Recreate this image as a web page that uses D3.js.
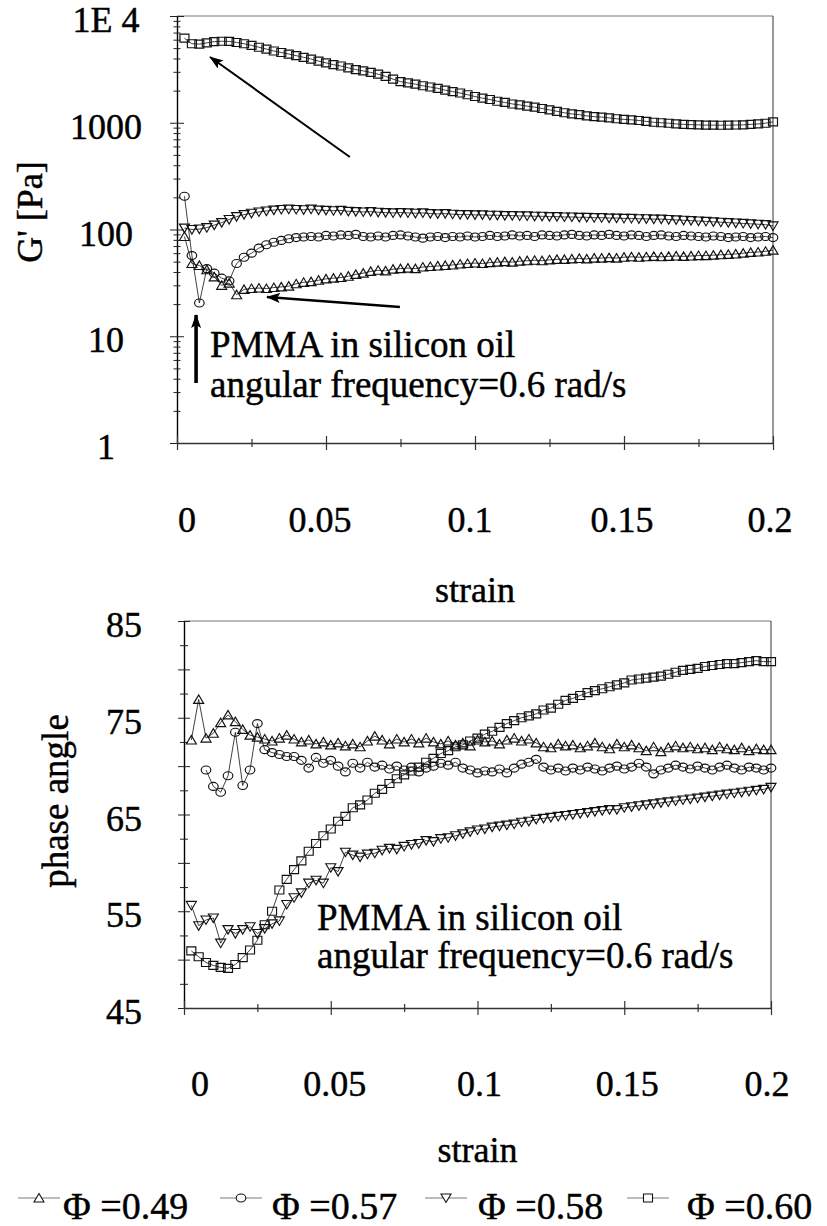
<!DOCTYPE html>
<html>
<head>
<meta charset="utf-8">
<script src="https://cdn.jsdelivr.net/npm/d3@7"></script>
<style>
  html, body { margin: 0; padding: 0; background: #fff; }
  svg { display: block; }
</style>
</head>
<body>
<svg id="fig" width="827" height="1226"></svg>
<script>
// ---------------------------------------------------------------
// Data: strain sweep of PMMA suspensions in silicon oil (0.6 rad/s)
// ---------------------------------------------------------------
const strain = [
  0.0025,0.005,0.0075,0.01,0.0125,0.015,0.0175,0.02,0.0225,0.025,
  0.0275,0.03,0.0325,0.035,0.0375,0.04,0.0425,0.045,0.0475,0.05,
  0.0525,0.055,0.0575,0.06,0.0625,0.065,0.0675,0.07,0.0725,0.075,
  0.0775,0.08,0.0825,0.085,0.0875,0.09,0.0925,0.095,0.0975,0.1,
  0.1025,0.105,0.1075,0.11,0.1125,0.115,0.1175,0.12,0.1225,0.125,
  0.1275,0.13,0.1325,0.135,0.1375,0.14,0.1425,0.145,0.1475,0.15,
  0.1525,0.155,0.1575,0.16,0.1625,0.165,0.1675,0.17,0.1725,0.175,
  0.1775,0.18,0.1825,0.185,0.1875,0.19,0.1925,0.195,0.1975,0.2
];

const seriesLabels = ["\u03A6 =0.49", "\u03A6 =0.57", "\u03A6 =0.58", "\u03A6 =0.60"];

// storage modulus G' [Pa]
const gPrime049 = [
  86,48,46,42,36,30,31.5,24.5,27.5,28,
  28.3,28,28.6,29,29.5,31,32,32.5,33.5,34.5,
  35,35.5,36.5,38,39,40.5,41.5,41,42.5,43,
  43.5,43,44.5,45,45.5,46,46.5,47.5,48,48.5,
  48,49,49.5,50,49.5,50.5,51,51.5,51,52,
  52.5,52.5,53,53.5,53,54,54,54.5,54,55,
  55.5,55,55.5,56,55.5,56,56.5,56,56.5,57,
  57,57.5,58,58.5,59,60,61,61.5,62.5,64
];
const gPrime057 = [
  205,57,20.5,43,39,35,33,48,55,60,
  67,72,76,79,82,84,85,86,85,88,
  87,89,88,90,86,85,87,85,88,89,
  87,85,83,85,86,84,86,85,87,85,
  86,88,86,87,89,87,88,86,89,88,
  87,89,90,88,87,89,88,90,88,87,
  89,88,86,88,89,87,86,88,87,86,
  85,87,86,84,85,86,84,85,86,84
];
const gPrime058 = [
  103,100,101,104,110,116,124,132,138,142,
  146,149,152,154,155,154,153,155,152,151,
  150,151,148,147,146,147,145,144,143,144,
  143,142,143,141,140,141,139,138,138,137,
  137,136,136,135,135,134,134,133,133,132,
  132,131,131,130,130,129,129,128,128,127,
  127,126,126,125,125,124,123,122,121,120,
  119,118,117,116,115,114,113,112,111,108
];
const gPrime060 = [
  6200,5500,5450,5600,5750,5800,5780,5650,5500,5300,
  5100,4900,4700,4550,4400,4250,4100,3950,3780,3640,
  3500,3400,3270,3150,3060,2960,2850,2720,2560,2430,
  2360,2300,2220,2160,2100,2020,1960,1900,1830,1760,
  1700,1650,1590,1550,1500,1470,1430,1400,1360,1320,
  1280,1240,1210,1190,1160,1140,1130,1110,1090,1075,
  1065,1050,1030,1010,1000,990,975,965,960,955,
  950,950,948,950,952,955,965,975,990,1020
];

// phase angle [deg]
const phase049 = [
  72.7,76.9,72.9,73.4,74.5,75.3,74.6,73.8,73.2,73.0,
  72.8,72.6,72.9,73.2,72.8,72.5,72.7,72.3,72.5,72.2,
  72.4,72.1,72.3,72.0,72.6,73.1,72.7,72.3,72.8,72.5,
  72.8,72.4,72.9,72.5,72.3,72.6,72.2,72.4,72.1,72.7,
  72.5,72.6,72.3,72.7,72.9,72.6,72.8,72.4,72.0,71.9,
  72.3,72.1,72.2,71.9,72.1,72.4,72.0,71.8,72.3,72.0,
  72.2,71.9,71.6,72.0,71.5,71.9,72.1,71.9,72.0,71.8,
  71.9,71.7,72.0,71.8,71.7,71.9,71.6,71.8,71.7,71.7
];
const phase057 = [
  null,null,69.6,67.9,67.3,69.0,73.5,68.0,69.6,74.4,
  71.7,71.4,71.2,71.0,71.0,70.6,69.8,70.9,70.3,70.6,
  70.0,69.4,70.3,69.8,70.4,69.9,70.1,69.7,70.0,69.6,
  69.9,69.4,69.8,70.0,70.3,70.1,70.4,69.8,69.6,69.3,
  69.5,69.4,69.7,69.3,69.8,70.2,70.4,70.7,69.9,69.6,
  69.8,69.5,69.8,69.6,69.9,69.7,69.5,69.8,70.0,69.7,
  69.9,70.3,69.9,69.2,69.6,69.8,70.1,69.9,69.7,70.0,
  69.8,69.6,69.9,70.1,69.8,69.6,69.9,69.8,69.6,69.8
];
const phase058 = [
  55.6,53.5,54.1,54.3,51.7,53.1,52.7,53.1,53.4,52.7,
  53.2,53.7,54.0,55.7,56.4,56.9,57.9,58.2,57.9,59.5,
  59.1,61.1,60.8,60.6,60.9,61.0,61.3,61.5,61.4,61.7,
  61.9,62.0,62.3,62.2,62.5,62.6,62.8,63.0,63.2,63.4,
  63.5,63.7,63.8,63.9,64.0,64.2,64.3,64.5,64.6,64.7,
  64.8,64.9,65.0,65.1,65.2,65.3,65.4,65.5,65.5,65.7,
  65.8,65.9,66.0,66.1,66.2,66.3,66.4,66.5,66.6,66.7,
  66.8,66.9,67.0,67.1,67.2,67.3,67.4,67.5,67.6,67.8
];
const phase060 = [
  50.9,50.3,49.7,49.4,49.2,49.1,49.5,50.2,51.0,52.0,
  53.6,55.0,57.2,58.3,59.3,60.2,61.2,62.0,62.8,63.5,
  64.3,64.8,65.7,66.0,66.5,67.2,67.6,68.2,68.7,69.1,
  69.5,69.9,70.4,70.8,71.3,71.6,72.0,72.2,72.6,72.9,
  73.3,73.6,74.0,74.4,74.7,75.0,75.2,75.4,75.8,76.0,
  76.4,76.8,77.0,77.3,77.6,77.8,78.0,78.2,78.4,78.6,
  78.9,79.0,79.1,79.2,79.3,79.5,79.7,79.9,80.0,80.1,
  80.3,80.4,80.5,80.6,80.6,80.7,80.8,80.9,80.8,80.8
];

// axis ticks
const xTicks = [0,0.025,0.05,0.075,0.1,0.125,0.15,0.175,0.2];
const xLabelTicks = [0,0.05,0.1,0.15,0.2];
const xTickLabels = ["0","0.05","0.1","0.15","0.2"];
const gDecades = [1,10,100,1000,10000];
const gDecadeLabels = ["1","10","100","1000","1E 4"];
const phaseTicks = [45,47.5,50,52.5,55,57.5,60,62.5,65,67.5,70,72.5,75,77.5,80,82.5,85];
const phaseLabelTicks = [45,55,65,75,85];
const phaseTickLabels = ["45","55","65","75","85"];

const noteLines = ["PMMA in silicon oil", "angular frequency=0.6 rad/s"];

// ---------------------------------------------------------------
// Drawing helpers
// ---------------------------------------------------------------
const svg = d3.select("#fig");
const INK = "#111";
const SERIF = "'Liberation Serif'";

const markerPaths = {
  up:     "M-5,4L0,-4.5L5,4Z",
  circle: "M-4.8,0A4.8,4 0 1,0 4.8,0A4.8,4 0 1,0 -4.8,0Z",
  down:   "M-5,-4L0,4.5L5,-4Z",
  square: "M-4.5,-4H4.5V4H-4.5Z"
};
const seriesShapes = ["up", "circle", "down", "square"];

svg.append("defs").append("marker")
  .attr("id", "head")
  .attr("markerUnits", "userSpaceOnUse")
  .attr("viewBox", "0 0 14 10")
  .attr("refX", 13).attr("refY", 5)
  .attr("markerWidth", 14).attr("markerHeight", 10)
  .attr("orient", "auto")
  .append("path").attr("d", "M0,0L14,5L0,10L3,5Z").attr("fill", "#000");

// serif text, slightly heavy like the printed figure
function label(g) {
  return g.append("text")
    .style("font-family", SERIF)
    .attr("fill", "#000")
    .attr("stroke", "#000")
    .attr("stroke-width", 0.45);
}

function drawSeries(g, x, y, values, shape) {
  const pts = strain.map((s, i) => ({ s, v: values[i] }));
  const line = d3.line()
    .defined(d => d.v != null)
    .x(d => x(d.s)).y(d => y(d.v));
  g.append("path").datum(pts)
    .attr("d", line)
    .attr("fill", "none")
    .attr("stroke", INK)
    .attr("stroke-width", 0.8);
  g.selectAll(null).data(pts.filter(d => d.v != null)).enter()
    .append("path")
    .attr("d", markerPaths[shape])
    .attr("transform", d => `translate(${x(d.s)},${y(d.v)})`)
    .attr("fill", "none")
    .attr("stroke", INK)
    .attr("stroke-width", 1.15);
}

function frame(g, x, y) {
  const [x0, x1] = x.range();
  const [yb, yt] = y.range();
  g.append("line").attr("x1", x0).attr("x2", x1).attr("y1", yt).attr("y2", yt)
    .attr("stroke", "#777").attr("stroke-width", 1);
  g.append("line").attr("x1", x1).attr("x2", x1).attr("y1", yt).attr("y2", yb)
    .attr("stroke", "#555").attr("stroke-width", 1.2);
}

// ticks crossing the axis line on both sides
function crossTicks(axisG, horizontal, sizeFn) {
  axisG.selectAll(".tick line").each(function(d) {
    const s = sizeFn(d);
    if (horizontal) d3.select(this).attr("y1", -s).attr("y2", s);
    else d3.select(this).attr("x1", -s).attr("x2", s);
  });
  axisG.selectAll(".tick text").remove();
}

function xAxis(g, x, y, labelY, labelShift, titleY) {
  const yb = y.range()[0];
  const ax = g.append("g").attr("transform", `translate(0,${yb})`)
    .call(d3.axisBottom(x).tickValues(xTicks).tickSizeOuter(0).tickFormat(""));
  ax.select(".domain").attr("stroke", "#333").attr("stroke-width", 1.3);
  ax.selectAll(".tick line").attr("stroke", "#333").attr("stroke-width", 1.2);
  crossTicks(ax, true, d => (Math.round(d * 1000) % 50 === 0 ? 7 : 4));
  xLabelTicks.forEach((d, i) => {
    label(g).attr("x", x(d) + labelShift[i]).attr("y", labelY)
      .attr("text-anchor", "middle").attr("font-size", 36)
      .text(xTickLabels[i]);
  });
  label(g).attr("x", (x.range()[0] + x.range()[1]) / 2).attr("y", titleY)
    .attr("text-anchor", "middle").attr("font-size", 36)
    .text("strain");
}

// ---------------------------------------------------------------
// Upper panel: G' vs strain (log scale)
// ---------------------------------------------------------------
const xTop = d3.scaleLinear().domain([0, 0.2]).range([177, 773]);
const yTop = d3.scaleLog().domain([1, 1e4]).range([443, 16]);
const upper = svg.append("g");

frame(upper, xTop, yTop);

const gMinor = [];
gDecades.slice(0, -1).forEach(dec => { for (let k = 2; k <= 9; k++) gMinor.push(dec * k); });
const yAxTop = upper.append("g").attr("transform", `translate(${xTop.range()[0]},0)`)
  .call(d3.axisLeft(yTop).tickValues(gDecades.concat(gMinor)).tickSizeOuter(0).tickFormat(""));
yAxTop.select(".domain").attr("stroke", "#000").attr("stroke-width", 1.4);
yAxTop.selectAll(".tick line").attr("stroke", "#222").attr("stroke-width", 1);
crossTicks(yAxTop, false, d => (gDecades.includes(d) ? 7 : 3.5));

gDecades.forEach((d, i) => {
  label(upper).attr("x", 106).attr("y", yTop(d)).attr("dy", "0.45em")
    .attr("text-anchor", "middle").attr("font-size", 36)
    .text(gDecadeLabels[i]);
});

label(upper)
  .attr("transform", `translate(42,212) rotate(-90)`)
  .attr("text-anchor", "middle").attr("font-size", 36)
  .text("G' [Pa]");

xAxis(upper, xTop, yTop, 532, [10, -6, -5, -2, -3], 602);

[gPrime049, gPrime057, gPrime058, gPrime060].forEach((vals, i) =>
  drawSeries(upper, xTop, yTop, vals, seriesShapes[i]));

// annotation arrows (tail -> head, in data coordinates)
const topArrows = [
  { from: [0.058, 478], to: [0.0111, 4130], w: 2 },
  { from: [0.0748, 18.8], to: [0.0302, 23.3], w: 2.6 },
  { from: [0.0064, 3.65], to: [0.0064, 15.8], w: 3.6 }
];
topArrows.forEach(a => {
  upper.append("line")
    .attr("x1", xTop(a.from[0])).attr("y1", yTop(a.from[1]))
    .attr("x2", xTop(a.to[0])).attr("y2", yTop(a.to[1]))
    .attr("stroke", "#000").attr("stroke-width", a.w)
    .attr("marker-end", "url(#head)");
});

const topNote = label(upper)
  .attr("x", xTop(0.0111)).attr("y", yTop(6.4)).attr("font-size", 37);
noteLines.forEach((t, i) => topNote.append("tspan")
  .attr("x", xTop(0.0111)).attr("dy", i === 0 ? 0 : 40).text(t));

// ---------------------------------------------------------------
// Lower panel: phase angle vs strain
// ---------------------------------------------------------------
const xBot = d3.scaleLinear().domain([0, 0.2]).range([184, 771]);
const yBot = d3.scaleLinear().domain([45, 85]).range([1008, 621]);
const lower = svg.append("g");

frame(lower, xBot, yBot);

const yAxBot = lower.append("g").attr("transform", `translate(${xBot.range()[0]},0)`)
  .call(d3.axisLeft(yBot).tickValues(phaseTicks).tickSizeOuter(0).tickFormat(""));
yAxBot.select(".domain").attr("stroke", "#000").attr("stroke-width", 1.4);
yAxBot.selectAll(".tick line").attr("stroke", "#222").attr("stroke-width", 1);
crossTicks(yAxBot, false, d => (d % 5 === 0 ? 6 : 4));

phaseLabelTicks.forEach((d, i) => {
  label(lower).attr("x", 142).attr("y", yBot(d)).attr("dy", "0.45em")
    .attr("text-anchor", "end").attr("font-size", 36)
    .text(phaseTickLabels[i]);
});

label(lower)
  .attr("transform", `translate(68,801) rotate(-90)`)
  .attr("text-anchor", "middle").attr("font-size", 37)
  .text("phase angle");

xAxis(lower, xBot, yBot, 1096, [16, 4, 2, 3, -4], 1162);

[phase049, phase057, phase058, phase060].forEach((vals, i) =>
  drawSeries(lower, xBot, yBot, vals, seriesShapes[i]));

const botNote = label(lower)
  .attr("x", xBot(0.0453)).attr("y", yBot(53.06)).attr("font-size", 37);
noteLines.forEach((t, i) => botNote.append("tspan")
  .attr("x", xBot(0.0453)).attr("dy", i === 0 ? 0 : 38).text(t));

// ---------------------------------------------------------------
// Legend
// ---------------------------------------------------------------
const legendSymbolX = [18, 220, 425, 627];
const legendTextX = [63, 272, 478, 687];
const legend = svg.append("g");
seriesLabels.forEach((lab, i) => {
  const x0 = legendSymbolX[i];
  legend.append("line")
    .attr("x1", x0).attr("x2", x0 + 42).attr("y1", 1198).attr("y2", 1198)
    .attr("stroke", "#555").attr("stroke-width", 0.8);
  legend.append("path")
    .attr("d", markerPaths[seriesShapes[i]])
    .attr("transform", `translate(${x0 + 21},1198)`)
    .attr("fill", "#fff").attr("stroke", INK).attr("stroke-width", 1.1);
  label(legend).attr("x", legendTextX[i]).attr("y", 1219)
    .attr("font-size", 38).text(lab);
});
</script>
</body>
</html>
